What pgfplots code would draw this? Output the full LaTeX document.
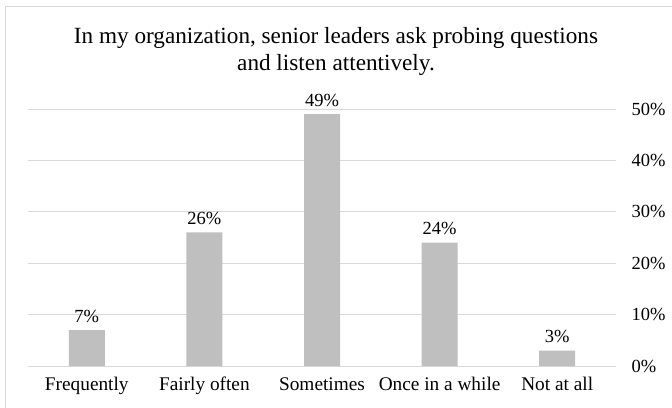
\documentclass[border=0pt]{standalone}
\usepackage{pgfplots}
\pgfplotsset{compat=1.18}
\usepackage{fontspec}
\setmainfont{Liberation Serif}
\definecolor{barfill}{HTML}{BFBFBF}
\definecolor{gridc}{HTML}{D9D9D9}
\begin{document}
\begin{tikzpicture}[x=1pt,y=1pt]
\useasboundingbox (0,0) rectangle (672,407);
% chart frame (top and left edges)
\draw[gridc, line width=1pt] (5,-5) -- (5,400) -- (680,400);
\node[align=center, font=\fontsize{23.2}{27}\selectfont] at (336,356)
  {In my organization, senior leaders ask probing questions\\and listen attentively.};
\begin{axis}[
  at={(28pt,41pt)}, anchor=south west,
  scale only axis, width=588pt, height=257pt,
  xmin=-0.5, xmax=4.5, ymin=0, ymax=50,
  axis line style={draw=none},
  tick style={draw=none},
  major tick length=0pt,
  ymajorgrids, grid style={gridc, line width=1pt},
  xtick=data,
  xticklabels={Frequently, Fairly often, Sometimes, Once in a while, Not at all},
  ytick={0,10,...,50},
  yticklabel pos=right,
  yticklabel={\pgfmathprintnumber[assume math mode=true]{\tick}\%},
  yticklabel style={font=\fontsize{18.5}{20}\selectfont, anchor=west, xshift=12pt},
  xticklabel style={font=\fontsize{19.3}{22}\selectfont, text height=13pt, text depth=4pt, yshift=-8pt},
  nodes near coords={\pgfmathprintnumber[assume math mode=true]{\pgfplotspointmeta}\%},
  every node near coord/.append style={font=\fontsize{18.5}{20}\selectfont, anchor=south, yshift=4pt},
  clip=false,
]
\addplot[ybar, bar width=36pt, fill=barfill, draw=none]
  coordinates {(0,7) (1,26) (2,49) (3,24) (4,3)};
\end{axis}
\end{tikzpicture}
\end{document}
